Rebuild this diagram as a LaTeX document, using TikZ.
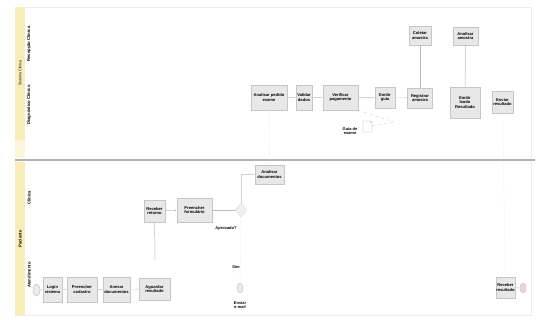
\documentclass[tikz,border=0pt]{standalone}
\usepackage{fontspec}
\setmainfont{Liberation Sans}
\usetikzlibrary{shapes.geometric,shadows,arrows.meta}
\definecolor{poolyel}{RGB}{248,236,184}
\definecolor{taskgray}{RGB}{232,232,232}
\definecolor{endpink}{RGB}{236,214,222}

\begin{document}
\begin{tikzpicture}[x=1pt,y=-1pt,
  task/.style={rectangle,draw=gray!45,fill=taskgray,line width=.3pt,
    drop shadow={shadow xshift=.7pt,shadow yshift=-.7pt,fill=gray!55},
    align=center,inner sep=.3pt,font=\fontsize{4.1}{4.9}\selectfont\bfseries},
  evt/.style={ellipse,draw=gray!60,fill=gray!15,line width=.3pt,inner sep=0pt},
  flow/.style={draw=gray!35,line width=.3pt,-{Latex[length=2pt,width=1.6pt]}},
  msg/.style={draw=gray!30,line width=.4pt,densely dotted},
  lbl/.style={font=\fontsize{4}{4.8}\selectfont\bfseries,inner sep=0pt,align=center},
  lanetxt/.style={font=\fontsize{4.2}{4.8}\selectfont\bfseries,rotate=90,inner sep=0pt}]
\useasboundingbox (0,0) rectangle (538,320);

% pools
\draw[gray!15,line width=.4pt] (15,7) -- (531,7) -- (531,315) -- (15,315);
\fill[poolyel] (15,7) rectangle (25,140);
\fill[poolyel!50] (15,140) rectangle (25,158);
\fill[poolyel] (15,162) rectangle (25,315);
\draw[gray!60,line width=1.4pt] (15,160) -- (535,160);

\node[lanetxt,font=\fontsize{3.6}{4.4}\selectfont] (poolA) at (20,73) {Sistema Clínica};
\node[lanetxt] (laneA1) at (29,44) {Recepção Clínica};
\node[lanetxt] (laneA2) at (29,105) {Diagnóstico Clínico};
\node[lanetxt] (poolB) at (20,239) {Paciente};
\node[lanetxt] (laneB1) at (29,198) {Clínica};
\node[lanetxt] (laneB2) at (29,275) {Atendimento};

% upper pool
\node[task,minimum width=36pt,minimum height=25pt] (analisar) at (269,97.5) {Analisar pedido\\exame};
\node[task,minimum width=16pt,minimum height=25pt] (validar) at (304,97.5) {Validar\\dados};
\node[task,minimum width=35pt,minimum height=25pt] (verificar) at (340.5,97.5) {Verificar\\pagamento};
\node[task,minimum width=20pt,minimum height=21pt] (emitir) at (385,97.5) {Emitir\\guia};
\node[task,minimum width=22pt,minimum height=19pt] (coletar) at (420,35.5) {Coletar\\amostra};
\node[task,minimum width=25pt,minimum height=20pt] (registrar) at (420,98) {Registrar\\amostra};
\node[task,minimum width=25pt,minimum height=18pt] (examinar) at (465.5,36) {Analisar\\amostra};
\node[task,minimum width=30pt,minimum height=31pt] (laudo) at (465,102.5) {Emitir\\laudo\\Resultado};
\node[task,minimum width=21pt,minimum height=22pt] (enviar) at (502.5,102) {Enviar\\resultado};

% data object
\draw[gray!70,line width=.4pt,fill=white] (363,121) -- (370,121) -- (372,123) -- (372,132) -- (363,132) -- cycle;
\coordinate (guia) at (372,126);
\node[lbl] (guialbl) at (350,131) {Guia de\\exame};
\coordinate (assoc) at (394,122);
\draw[gray!45,line width=.3pt,dashed] (verificar.south east) -- (assoc);
\draw[gray!45,line width=.3pt,dashed] (guia) -- (assoc);

\draw[flow] (analisar) -- (validar);
\draw[flow] (validar) -- (verificar);
\draw[flow] (verificar) -- (emitir);
\draw[flow] (emitir) -- (registrar);
\draw[gray!55,line width=.5pt] (coletar) -- (registrar);
\draw[gray!55,line width=.5pt] (examinar) -- (laudo);

% lower pool
\node[evt,minimum width=7pt,minimum height=12pt] (inicio) at (36.5,290) {};
\node[task,minimum width=19pt,minimum height=25pt] (login) at (52.5,289.5) {Login\\sistema};
\node[task,minimum width=30pt,minimum height=25pt] (cadastro) at (82,289.5) {Preencher\\cadastro};
\node[task,minimum width=27pt,minimum height=25pt] (anexar) at (116.5,289.5) {Anexar\\documentos};
\node[task,minimum width=31pt,minimum height=22pt] (aguardar) at (154.5,289) {Aguardar\\resultado};
\node[task,minimum width=21pt,minimum height=22pt] (retorno) at (154.5,211) {Receber\\retorno};
\node[task,minimum width=35pt,minimum height=24pt] (formulario) at (194.5,210) {Preencher\\formulário};
\node[diamond,draw=gray!30,fill=gray!12,line width=.3pt,minimum width=12pt,minimum height=14pt,inner sep=0pt] (decisao) at (241,210) {};
\node[lbl] (decisaolbl) at (226,228) {Aprovado?};
\node[task,minimum width=29pt,minimum height=19pt] (docs) at (269.5,174.5) {Analisar\\documentos};
\node[lbl] (simlbl) at (236,267) {Sim};
\node[evt,minimum width=6pt,minimum height=10pt] (fim) at (240,288) {};
\node[lbl] (fimlbl) at (240,305) {Enviar\\e-mail};
\node[task,minimum width=19pt,minimum height=21pt] (recebe) at (505.5,287.5) {Receber\\resultado};
\node[evt,draw=gray!60,fill=endpink,minimum width=6pt,minimum height=10pt] (fim2) at (523,288) {};
\coordinate (corte) at (155,260);

\draw[flow] (inicio) -- (login);
\draw[flow] (login) -- (cadastro);
\draw[flow] (cadastro) -- (anexar);
\draw[flow] (anexar) -- (aguardar);
\draw[gray!55,line width=.5pt] (retorno) -- (corte);
\draw[gray!55,line width=.4pt,-{Latex[length=2.5pt,width=2pt]}] (retorno) -- (formulario);
\draw[gray!55,line width=.4pt] (formulario) -- (decisao);
\draw[flow] (decisao.north) |- (docs.west);
\draw[msg] (decisao) -- (fim);
\draw[flow] (recebe) -- (fim2);

% message flows
\draw[msg] (analisar) -- (docs);
\draw[msg] (enviar) -- (recebe);

\end{tikzpicture}
\end{document}
